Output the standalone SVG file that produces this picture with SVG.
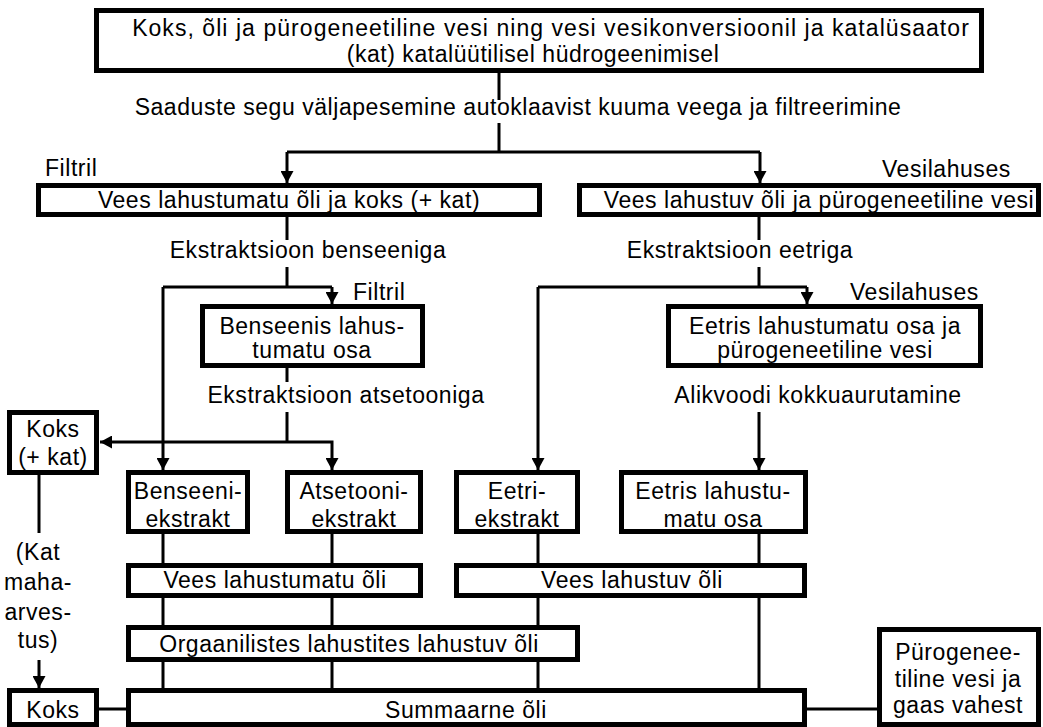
<svg xmlns="http://www.w3.org/2000/svg" width="1043" height="727" viewBox="0 0 1043 727">
<defs>
<style>
.box{fill:#fff;stroke:#000;stroke-width:5}
.ln{fill:none;stroke:#000;stroke-width:3}
text{font-family:"Liberation Sans",Arial,sans-serif;font-size:23px;letter-spacing:0.55px;fill:#000;text-anchor:middle}
.st{text-anchor:start}
.wide{letter-spacing:1.05px}
</style>
<marker id="ah" markerUnits="userSpaceOnUse" markerWidth="13" markerHeight="13" refX="12" refY="6.5" orient="auto" viewBox="0 0 13 13">
<path d="M0,0 L12,6.5 L0,13 z" fill="#000"/>
</marker>
</defs>
<rect width="1043" height="727" fill="#fff"/>
<g id="connectors">
<path class="ln" d="M499,73 V100 M499,123 V152 M287,152 H760"/>
<path class="ln" d="M287,152 V183" marker-end="url(#ah)"/>
<path class="ln" d="M760,152 V183" marker-end="url(#ah)"/>
<path class="ln" d="M287,217 V240 M287,267 V287 M163,287 H332"/>
<path class="ln" d="M332,287 V304" marker-end="url(#ah)"/>
<path class="ln" d="M163,287 V470" marker-end="url(#ah)"/>
<path class="ln" d="M759,217 V240 M759,267 V287 M538,287 H807"/>
<path class="ln" d="M807,287 V304" marker-end="url(#ah)"/>
<path class="ln" d="M538,287 V470" marker-end="url(#ah)"/>
<path class="ln" d="M287,368 V382 M287,412 V442"/>
<path class="ln" d="M287,442 H100" marker-end="url(#ah)"/>
<path class="ln" d="M287,442 H332 V470" marker-end="url(#ah)"/>
<path class="ln" d="M759,412 V470" marker-end="url(#ah)"/>
<path class="ln" d="M39,475 V533"/>
<path class="ln" d="M39,660 V688" marker-end="url(#ah)"/>
<path class="ln" d="M163,534 V563 M163,598 V625 M163,662 V688"/>
<path class="ln" d="M332,534 V563 M332,598 V625 M332,662 V688"/>
<path class="ln" d="M538,534 V563 M538,598 V625 M538,662 V688"/>
<path class="ln" d="M759,534 V563 M759,598 V688"/>
<path class="ln" d="M99,709 H126 M807,709 H877"/>
</g>
<g id="labels">
<text x="518" y="115">Saaduste segu väljapesemine autoklaavist kuuma veega ja filtreerimine</text>
<text class="st" x="45" y="176">Filtril</text>
<text class="st" x="882" y="177">Vesilahuses</text>
<text x="308" y="258">Ekstraktsioon benseeniga</text>
<text x="740" y="258">Ekstraktsioon eetriga</text>
<text class="st" x="353" y="300">Filtril</text>
<text class="st" x="850" y="300">Vesilahuses</text>
<text x="346" y="403">Ekstraktsioon atsetooniga</text>
<text x="818" y="403">Alikvoodi kokkuaurutamine</text>
<text x="38" y="560">(Kat</text>
<text x="38" y="590">maha-</text>
<text x="38" y="620">arves-</text>
<text x="38" y="648">tus)</text>
</g>
<g id="n-top">
<rect class="box" x="96.5" y="10.5" width="885" height="60"/>
<text class="wide" x="551" y="36">Koks, õli ja pürogeneetiline vesi ning vesi vesikonversioonil ja katalüsaator</text>
<text x="533" y="62">(kat) katalüütilisel hüdrogeenimisel</text>
</g>
<g id="n-vlkoks">
<rect class="box" x="38.5" y="185.5" width="501" height="29"/>
<text x="289" y="208">Vees lahustumatu õli ja koks (+ kat)</text>
</g>
<g id="n-vlpv">
<rect class="box" x="579.5" y="185.5" width="459" height="29"/>
<text x="819" y="208">Vees lahustuv õli ja pürogeneetiline vesi</text>
</g>
<g id="n-benslo">
<rect class="box" x="202.5" y="306.5" width="220" height="59"/>
<text x="312" y="334">Benseenis lahus-</text>
<text x="312" y="358">tumatu osa</text>
</g>
<g id="n-eetlo">
<rect class="box" x="668.5" y="306.5" width="312" height="59"/>
<text x="825" y="334">Eetris lahustumatu osa ja</text>
<text x="825" y="358">pürogeneetiline vesi</text>
</g>
<g id="n-kokskat">
<rect class="box" x="9.5" y="412.5" width="87" height="60"/>
<text x="53" y="437">Koks</text>
<text x="53" y="465">(+ kat)</text>
</g>
<g id="n-bensex">
<rect class="box" x="128.5" y="472.5" width="119" height="59"/>
<text x="188" y="499">Benseeni-</text>
<text x="188" y="527">ekstrakt</text>
</g>
<g id="n-atsex">
<rect class="box" x="287.5" y="472.5" width="133" height="59"/>
<text x="354" y="499">Atsetooni-</text>
<text x="354" y="527">ekstrakt</text>
</g>
<g id="n-eetex">
<rect class="box" x="456.5" y="472.5" width="121" height="59"/>
<text x="517" y="499">Eetri-</text>
<text x="517" y="527">ekstrakt</text>
</g>
<g id="n-eetlo2">
<rect class="box" x="621.5" y="472.5" width="184" height="59"/>
<text x="713" y="499">Eetris lahustu-</text>
<text x="713" y="527">matu osa</text>
</g>
<g id="n-vlo">
<rect class="box" x="128.5" y="565.5" width="292" height="30"/>
<text x="275" y="588">Vees lahustumatu õli</text>
</g>
<g id="n-vlso">
<rect class="box" x="456.5" y="565.5" width="348" height="30"/>
<text x="632" y="588">Vees lahustuv õli</text>
</g>
<g id="n-org">
<rect class="box" x="128.5" y="627.5" width="449" height="32"/>
<text x="349" y="652">Orgaanilistes lahustites lahustuv õli</text>
</g>
<g id="n-koks">
<rect class="box" x="9.5" y="690.5" width="87" height="34"/>
<text x="53" y="718">Koks</text>
</g>
<g id="n-summ">
<rect class="box" x="128.5" y="690.5" width="676" height="34"/>
<text x="466" y="718">Summaarne õli</text>
</g>
<g id="n-pyro">
<rect class="box" x="879.5" y="629.5" width="159" height="95"/>
<text x="958" y="660">Pürogenee-</text>
<text x="958" y="687">tiline vesi ja</text>
<text x="958" y="713">gaas vahest</text>
</g>
</svg>
